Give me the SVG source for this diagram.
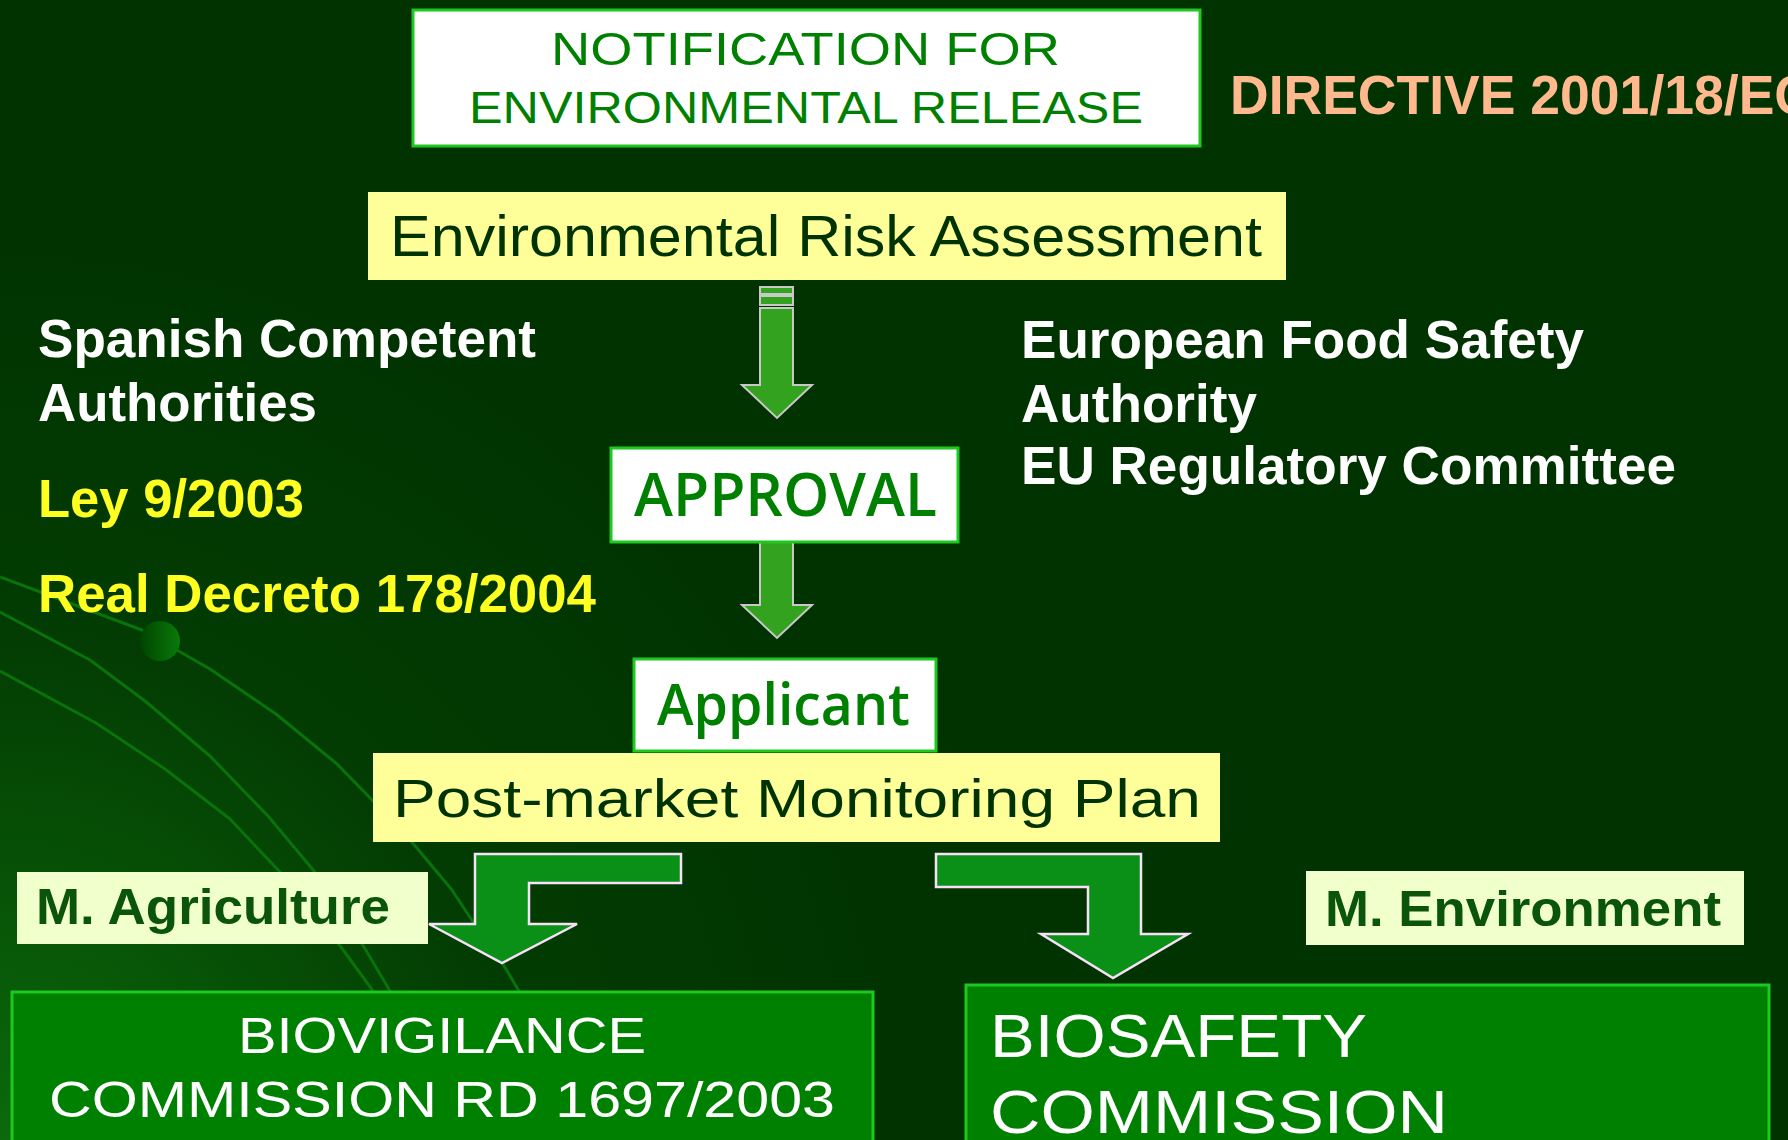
<svg xmlns="http://www.w3.org/2000/svg" width="1788" height="1140" viewBox="0 0 1788 1140">
<style>
.arial{font-family:"Liberation Sans",Arial,sans-serif;font-weight:bold}
.goth{font-family:"Liberation Sans",Arial,sans-serif;font-weight:normal}
.sans{font-family:"Open Sans","Noto Sans",sans-serif;font-weight:600}
.wbox{fill:#ffffff;stroke:#1ec81e;stroke-width:3}
.gbox{fill:#008000;stroke:#1ec81e;stroke-width:3}
.ybox{fill:#ffff99}
.pbox{fill:#f0ffcc}
.curve{fill:none;stroke:#0a720a;stroke-width:3;stroke-linejoin:round}
.varrow{fill:#33a31f;stroke:#c8c8c8;stroke-width:2}
.barrow{fill:#0a9016;stroke:#f8e0f8;stroke-width:2.5}
</style>
<defs>
<radialGradient id="bg" cx="0" cy="1140" r="900" gradientUnits="userSpaceOnUse">
<stop offset="0" stop-color="#0b6a0b"/>
<stop offset="0.55" stop-color="#033d03"/>
<stop offset="1" stop-color="#003300"/>
</radialGradient>
<linearGradient id="ball" x1="0" y1="0" x2="1" y2="0">
<stop offset="0" stop-color="#004400"/>
<stop offset="1" stop-color="#0a7a0a"/>
</linearGradient>
</defs>
<rect x="0" y="0" width="1788" height="1140" fill="#003300"/>
<rect x="0" y="0" width="1788" height="1140" fill="url(#bg)"/>
<g id="decor">
<polyline class="curve" points="0,577 142,630 210,669 276,714 337,764 373,801 411,841 452,890 475,925 503,964 519,991 530,1020"/>
<polyline class="curve" points="0,612 90,660 145,701 210,756 268,816 314,871 364,947 390,991 400,1010"/>
<polyline class="curve" points="0,671 96,723 165,769 230,819 279,871 341,947 373,991 385,1010"/>
<circle cx="160" cy="641" r="20" fill="url(#ball)"/>
</g>
<g id="connectors">
<rect class="varrow" x="760" y="287" width="33" height="7"/>
<rect class="varrow" x="760" y="296" width="33" height="9"/>
<polygon class="varrow" points="760,308 793,308 793,385 812,385 777,418 742,385 760,385"/>
<polygon class="varrow" points="760,542 793,542 793,605 812,605 777,638 742,605 760,605"/>
<polygon class="barrow" points="475,854 681,854 681,883 529,883 529,924 577,924 502,963 429,924 475,924"/>
<polygon class="barrow" points="936,854 1141,854 1141,934 1188,934 1113,978 1041,934 1088,934 1088,887 936,887"/>
</g>
<g id="notification">
<rect class="wbox" x="413" y="10" width="787" height="136"/>
<text class="goth" x="551" y="65" font-size="46" fill="#008000" textLength="509" lengthAdjust="spacingAndGlyphs">NOTIFICATION FOR</text>
<text class="goth" x="469" y="123" font-size="45" fill="#008000" textLength="674" lengthAdjust="spacingAndGlyphs">ENVIRONMENTAL RELEASE</text>
</g>
<g id="directive">
<text class="arial" x="1230" y="114" font-size="55" fill="#ffb98c" textLength="583" lengthAdjust="spacingAndGlyphs">DIRECTIVE 2001/18/EC</text>
</g>
<g id="era">
<rect class="ybox" x="368" y="192" width="918" height="88"/>
<text class="goth" x="390" y="256" font-size="57" fill="#003300" textLength="872" lengthAdjust="spacingAndGlyphs">Environmental Risk Assessment</text>
</g>
<g id="spanish">
<text class="arial" x="38" y="357" font-size="53" fill="#ffffff" textLength="498" lengthAdjust="spacingAndGlyphs">Spanish Competent</text>
<text class="arial" x="38" y="421" font-size="53" fill="#ffffff" textLength="279" lengthAdjust="spacingAndGlyphs">Authorities</text>
<text class="arial" x="38" y="517" font-size="53" fill="#ffff22" textLength="266" lengthAdjust="spacingAndGlyphs">Ley 9/2003</text>
<text class="arial" x="38" y="612" font-size="53" fill="#ffff22" textLength="558" lengthAdjust="spacingAndGlyphs">Real Decreto 178/2004</text>
</g>
<g id="european">
<text class="arial" x="1021" y="358" font-size="53" fill="#ffffff" textLength="563" lengthAdjust="spacingAndGlyphs">European Food Safety</text>
<text class="arial" x="1021" y="422" font-size="53" fill="#ffffff" textLength="236" lengthAdjust="spacingAndGlyphs">Authority</text>
<text class="arial" x="1021" y="484" font-size="53" fill="#ffffff" textLength="655" lengthAdjust="spacingAndGlyphs">EU Regulatory Committee</text>
</g>
<g id="approval">
<rect class="wbox" x="611" y="448" width="347" height="94"/>
<text class="sans" x="634" y="516" font-size="60" fill="#008000" textLength="303" lengthAdjust="spacingAndGlyphs">APPROVAL</text>
</g>
<g id="applicant">
<rect class="wbox" x="634" y="659" width="302" height="92"/>
<text class="sans" x="657" y="725" font-size="57" fill="#008000" textLength="253" lengthAdjust="spacingAndGlyphs">Applicant</text>
</g>
<g id="postmarket">
<rect class="ybox" x="373" y="753" width="847" height="89"/>
<text class="goth" x="393" y="817" font-size="54" fill="#003300" textLength="808" lengthAdjust="spacingAndGlyphs">Post-market Monitoring Plan</text>
</g>
<g id="agriculture">
<rect class="pbox" x="17" y="872" width="411" height="72"/>
<text class="arial" x="36" y="924" font-size="50" fill="#0a550a" textLength="354" lengthAdjust="spacingAndGlyphs">M. Agriculture</text>
</g>
<g id="environment">
<rect class="pbox" x="1306" y="871" width="438" height="74"/>
<text class="arial" x="1325" y="926" font-size="50" fill="#0a550a" textLength="396" lengthAdjust="spacingAndGlyphs">M. Environment</text>
</g>
<g id="biovigilance">
<rect class="gbox" x="12" y="992" width="861" height="160"/>
<text class="goth" x="238" y="1053" font-size="50" fill="#ffffff" textLength="408" lengthAdjust="spacingAndGlyphs">BIOVIGILANCE</text>
<text class="goth" x="49" y="1117" font-size="50" fill="#ffffff" textLength="786" lengthAdjust="spacingAndGlyphs">COMMISSION RD 1697/2003</text>
</g>
<g id="biosafety">
<rect class="gbox" x="966" y="985" width="803" height="170"/>
<text class="goth" x="990" y="1057" font-size="62" fill="#ffffff" textLength="377" lengthAdjust="spacingAndGlyphs">BIOSAFETY</text>
<text class="goth" x="990" y="1133" font-size="62" fill="#ffffff" textLength="458" lengthAdjust="spacingAndGlyphs">COMMISSION</text>
</g>
</svg>
